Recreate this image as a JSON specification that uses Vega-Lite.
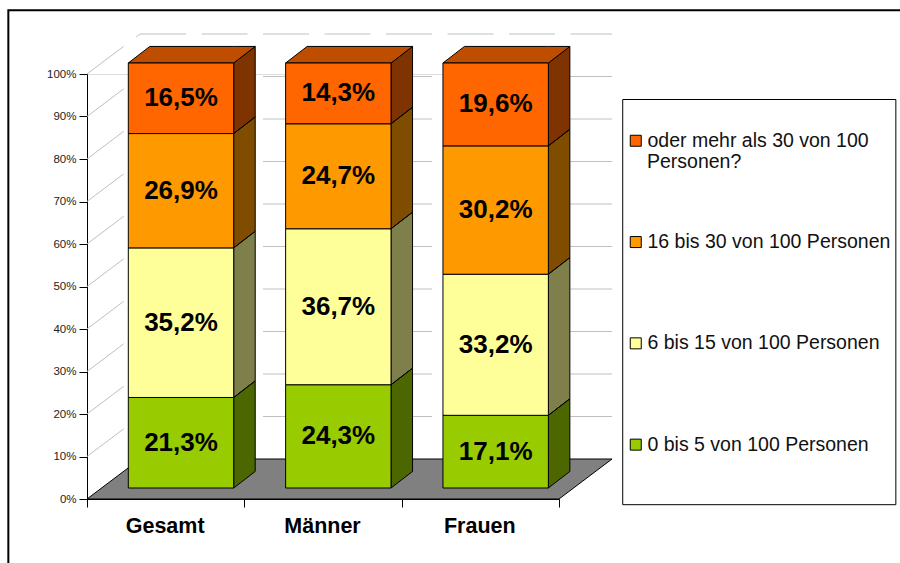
{
"$schema":"https://vega.github.io/schema/vega-lite/v6.json",
"width":472,"height":425,
"padding":{"left":87,"top":74,"right":341,"bottom":64},
"autosize":{"type":"none"},
"background":"white",
"datasets":{
"bars":[
{"group":"Gesamt","category":"0 bis 5 von 100 Personen","value":"21,3%","x0":0.2625,"x1":0.9324,"cx":0.5975,"from":0,"to":21.3,"mid":10.65},
{"group":"Gesamt","category":"6 bis 15 von 100 Personen","value":"35,2%","x0":0.2625,"x1":0.9324,"cx":0.5975,"from":21.3,"to":56.5,"mid":38.9},
{"group":"Gesamt","category":"16 bis 30 von 100 Personen","value":"26,9%","x0":0.2625,"x1":0.9324,"cx":0.5975,"from":56.5,"to":83.4,"mid":69.95},
{"group":"Gesamt","category":"oder mehr als 30 von 100 Personen?","value":"16,5%","x0":0.2625,"x1":0.9324,"cx":0.5975,"from":83.4,"to":100,"mid":91.7},
{"group":"Männer","category":"0 bis 5 von 100 Personen","value":"24,3%","x0":1.2625,"x1":1.9324,"cx":1.5975,"from":0,"to":24.3,"mid":12.15},
{"group":"Männer","category":"6 bis 15 von 100 Personen","value":"36,7%","x0":1.2625,"x1":1.9324,"cx":1.5975,"from":24.3,"to":61,"mid":42.65},
{"group":"Männer","category":"16 bis 30 von 100 Personen","value":"24,7%","x0":1.2625,"x1":1.9324,"cx":1.5975,"from":61,"to":85.7,"mid":73.35},
{"group":"Männer","category":"oder mehr als 30 von 100 Personen?","value":"14,3%","x0":1.2625,"x1":1.9324,"cx":1.5975,"from":85.7,"to":100,"mid":92.85},
{"group":"Frauen","category":"0 bis 5 von 100 Personen","value":"17,1%","x0":2.2625,"x1":2.9324,"cx":2.5975,"from":0,"to":17.1,"mid":8.55},
{"group":"Frauen","category":"6 bis 15 von 100 Personen","value":"33,2%","x0":2.2625,"x1":2.9324,"cx":2.5975,"from":17.1,"to":50.3,"mid":33.7},
{"group":"Frauen","category":"16 bis 30 von 100 Personen","value":"30,2%","x0":2.2625,"x1":2.9324,"cx":2.5975,"from":50.3,"to":80.5,"mid":65.4},
{"group":"Frauen","category":"oder mehr als 30 von 100 Personen?","value":"19,6%","x0":2.2625,"x1":2.9324,"cx":2.5975,"from":80.5,"to":100,"mid":90.25}
],
"sides":[
{"face":"G1","category":"0 bis 5 von 100 Personen","x":0.9324,"low":0,"high":21.3},{"face":"G1","category":"0 bis 5 von 100 Personen","x":1.0691,"low":3.9,"high":25.2},
{"face":"G2","category":"6 bis 15 von 100 Personen","x":0.9324,"low":21.3,"high":56.5},{"face":"G2","category":"6 bis 15 von 100 Personen","x":1.0691,"low":25.2,"high":60.4},
{"face":"G3","category":"16 bis 30 von 100 Personen","x":0.9324,"low":56.5,"high":83.4},{"face":"G3","category":"16 bis 30 von 100 Personen","x":1.0691,"low":60.4,"high":87.3},
{"face":"G4","category":"oder mehr als 30 von 100 Personen?","x":0.9324,"low":83.4,"high":100},{"face":"G4","category":"oder mehr als 30 von 100 Personen?","x":1.0691,"low":87.3,"high":103.9},
{"face":"M1","category":"0 bis 5 von 100 Personen","x":1.9324,"low":0,"high":24.3},{"face":"M1","category":"0 bis 5 von 100 Personen","x":2.0691,"low":3.9,"high":28.2},
{"face":"M2","category":"6 bis 15 von 100 Personen","x":1.9324,"low":24.3,"high":61},{"face":"M2","category":"6 bis 15 von 100 Personen","x":2.0691,"low":28.2,"high":64.9},
{"face":"M3","category":"16 bis 30 von 100 Personen","x":1.9324,"low":61,"high":85.7},{"face":"M3","category":"16 bis 30 von 100 Personen","x":2.0691,"low":64.9,"high":89.6},
{"face":"M4","category":"oder mehr als 30 von 100 Personen?","x":1.9324,"low":85.7,"high":100},{"face":"M4","category":"oder mehr als 30 von 100 Personen?","x":2.0691,"low":89.6,"high":103.9},
{"face":"F1","category":"0 bis 5 von 100 Personen","x":2.9324,"low":0,"high":17.1},{"face":"F1","category":"0 bis 5 von 100 Personen","x":3.0691,"low":3.9,"high":21},
{"face":"F2","category":"6 bis 15 von 100 Personen","x":2.9324,"low":17.1,"high":50.3},{"face":"F2","category":"6 bis 15 von 100 Personen","x":3.0691,"low":21,"high":54.2},
{"face":"F3","category":"16 bis 30 von 100 Personen","x":2.9324,"low":50.3,"high":80.5},{"face":"F3","category":"16 bis 30 von 100 Personen","x":3.0691,"low":54.2,"high":84.4},
{"face":"F4","category":"oder mehr als 30 von 100 Personen?","x":2.9324,"low":80.5,"high":100},{"face":"F4","category":"oder mehr als 30 von 100 Personen?","x":3.0691,"low":84.4,"high":103.9}
],
"tops":[
{"face":"G","x":0.2625,"low":100,"high":100},{"face":"G","x":0.3992,"low":100,"high":103.9},{"face":"G","x":0.9324,"low":100,"high":103.9},{"face":"G","x":1.0691,"low":103.9,"high":103.9},
{"face":"M","x":1.2625,"low":100,"high":100},{"face":"M","x":1.3992,"low":100,"high":103.9},{"face":"M","x":1.9324,"low":100,"high":103.9},{"face":"M","x":2.0691,"low":103.9,"high":103.9},
{"face":"F","x":2.2625,"low":100,"high":100},{"face":"F","x":2.3992,"low":100,"high":103.9},{"face":"F","x":2.9324,"low":100,"high":103.9},{"face":"F","x":3.0691,"low":103.9,"high":103.9}
],
"floor":[{"x":0,"low":0,"high":0},{"x":0.337,"low":0,"high":9.41},{"x":3,"low":0,"high":9.41},{"x":3.337,"low":9.41,"high":9.41}],
"wallDiagonal":[
{"level":10,"x":0,"y":10},{"level":10,"x":0.337,"y":19.41},
{"level":20,"x":0,"y":20},{"level":20,"x":0.337,"y":29.41},
{"level":30,"x":0,"y":30},{"level":30,"x":0.337,"y":39.41},
{"level":40,"x":0,"y":40},{"level":40,"x":0.337,"y":49.41},
{"level":50,"x":0,"y":50},{"level":50,"x":0.337,"y":59.41},
{"level":60,"x":0,"y":60},{"level":60,"x":0.337,"y":69.41},
{"level":70,"x":0,"y":70},{"level":70,"x":0.337,"y":79.41},
{"level":80,"x":0,"y":80},{"level":80,"x":0.337,"y":89.41},
{"level":90,"x":0,"y":90},{"level":90,"x":0.337,"y":99.41},
{"level":100,"x":0,"y":100},{"level":100,"x":0.337,"y":109.41}
],
"wallBack":[
{"level":10,"x":0.337,"y":19.41},{"level":10,"x":3.337,"y":19.41},
{"level":20,"x":0.337,"y":29.41},{"level":20,"x":3.337,"y":29.41},
{"level":30,"x":0.337,"y":39.41},{"level":30,"x":3.337,"y":39.41},
{"level":40,"x":0.337,"y":49.41},{"level":40,"x":3.337,"y":49.41},
{"level":50,"x":0.337,"y":59.41},{"level":50,"x":3.337,"y":59.41},
{"level":60,"x":0.337,"y":69.41},{"level":60,"x":3.337,"y":69.41},
{"level":70,"x":0.337,"y":79.41},{"level":70,"x":3.337,"y":79.41},
{"level":80,"x":0.337,"y":89.41},{"level":80,"x":3.337,"y":89.41},
{"level":90,"x":0.337,"y":99.41},{"level":90,"x":3.337,"y":99.41},
{"level":100,"x":0.337,"y":109.41},{"level":100,"x":3.337,"y":109.41}
],
"frame":[{"x0":-0.5,"x1":6,"y0":-30,"y1":115}],
"legendBox":[{"x0":3.405,"x1":5.141,"y0":-1.34,"y1":94}],
"legendWrap":[{"x":3.559,"y":79.3,"text":"Personen?"}]
},
"layer":[
{"data":{"name":"frame"},"mark":{"type":"rect","fill":"transparent","stroke":"black","strokeWidth":2},
"encoding":{
"x":{"field":"x0","type":"quantitative","scale":{"domain":[0,3],"nice":false,"zero":false},"title":null,
"axis":{"values":[0,0.5,1,1.5,2,2.5,3],"labelExpr":"datum.value==0.5?'Gesamt':datum.value==1.5?'Männer':datum.value==2.5?'Frauen':''","grid":false,"domainColor":"black","tickColor":"black","tickSize":8,"tickOpacity":{"condition":{"test":"datum.value%1==0","value":1},"value":0},"labelFont":"Liberation Sans","labelFontSize":21.5,"labelFontWeight":"bold","labelColor":"black","labelPadding":8,"labelOffset":-1,"labelOverlap":false,"labelBound":false,"labelFlush":false}},
"x2":{"field":"x1"},
"y":{"field":"y0","type":"quantitative","scale":{"domain":[0,100],"nice":false,"zero":false},"title":null,
"axis":{"values":[0,10,20,30,40,50,60,70,80,90,100],"labelExpr":"datum.value+'%'","grid":false,"domainColor":"black","tickColor":"black","tickSize":8,"labelFont":"Liberation Sans","labelFontSize":11.5,"labelColor":"#222222","labelPadding":3,"labelOverlap":false}},
"y2":{"field":"y1"}}},
{"data":{"name":"wallDiagonal"},"mark":{"type":"line","stroke":"#C0C0C0","strokeWidth":1,"strokeDash":[46,15.5]},
"encoding":{"x":{"field":"x","type":"quantitative","title":null},"y":{"field":"y","type":"quantitative","title":null},"detail":{"field":"level"}}},
{"data":{"name":"wallBack"},"mark":{"type":"line","stroke":"#C0C0C0","strokeWidth":1,"strokeDash":[46,15.5]},
"encoding":{"x":{"field":"x","type":"quantitative","title":null},"y":{"field":"y","type":"quantitative","title":null},"detail":{"field":"level"}}},
{"data":{"name":"floor"},"mark":{"type":"area","fill":"#808080","stroke":"black","strokeWidth":1},
"encoding":{"x":{"field":"x","type":"quantitative","title":null},"y":{"field":"low","type":"quantitative","title":null},"y2":{"field":"high"}}},
{"data":{"name":"sides"},"mark":{"type":"area","yOffset":-11,"y2Offset":-11},
"encoding":{"x":{"field":"x","type":"quantitative","title":null},"y":{"field":"low","type":"quantitative","title":null},"y2":{"field":"high"},"detail":{"field":"face"},
"color":{"field":"category","type":"nominal","title":null}}},
{"data":{"name":"sides"},"mark":{"type":"area","yOffset":-11,"y2Offset":-11,"fill":"black","fillOpacity":0.5,"stroke":"black","strokeWidth":1},
"encoding":{"x":{"field":"x","type":"quantitative","title":null},"y":{"field":"low","type":"quantitative","title":null},"y2":{"field":"high"},"detail":{"field":"face"}}},
{"data":{"name":"tops"},"mark":{"type":"area","yOffset":-11,"y2Offset":-11,"fill":"#BF4D00","stroke":"black","strokeWidth":1},
"encoding":{"x":{"field":"x","type":"quantitative","title":null},"y":{"field":"low","type":"quantitative","title":null},"y2":{"field":"high"},"detail":{"field":"face"}}},
{"data":{"name":"legendBox"},"mark":{"type":"rect","fill":"white","stroke":"black","strokeWidth":1},
"encoding":{"x":{"field":"x0","type":"quantitative","title":null},"x2":{"field":"x1"},"y":{"field":"y0","type":"quantitative","title":null},"y2":{"field":"y1"}}},
{"data":{"name":"bars"},"mark":{"type":"rect","yOffset":-11,"y2Offset":-11,"stroke":"black","strokeWidth":1},
"encoding":{"x":{"field":"x0","type":"quantitative","title":null},"x2":{"field":"x1"},"y":{"field":"from","type":"quantitative","title":null},"y2":{"field":"to"},
"color":{"field":"category","type":"nominal","title":null,
"scale":{"domain":["oder mehr als 30 von 100 Personen?","16 bis 30 von 100 Personen","6 bis 15 von 100 Personen","0 bis 5 von 100 Personen"],"range":["#FF6600","#FF9900","#FFFF99","#99CC00"]},
"legend":{"orient":"none","legendX":539,"legendY":57,"title":null,"symbolType":"square","symbolSize":121,"symbolStrokeColor":"black","symbolStrokeWidth":1,"symbolOpacity":1,"labelFont":"Liberation Sans","labelFontSize":19.5,"labelColor":"#111111","labelLimit":300,"labelOffset":2,"rowPadding":80.3,"padding":0,
"labelExpr":"indexof(datum.label,'oder')==0?'oder mehr als 30 von 100':datum.label"}}}},
{"data":{"name":"legendWrap"},"mark":{"type":"text","font":"Liberation Sans","fontSize":19.5,"color":"#111111","align":"left","baseline":"middle"},
"encoding":{"x":{"field":"x","type":"quantitative","title":null},"y":{"field":"y","type":"quantitative","title":null},"text":{"field":"text"}}},
{"data":{"name":"bars"},"mark":{"type":"text","yOffset":-11,"font":"Liberation Sans","fontSize":26,"fontWeight":"bold","color":"black","baseline":"middle","align":"center"},
"encoding":{"x":{"field":"cx","type":"quantitative","title":null},"y":{"field":"mid","type":"quantitative","title":null},"text":{"field":"value"}}}
]
}
